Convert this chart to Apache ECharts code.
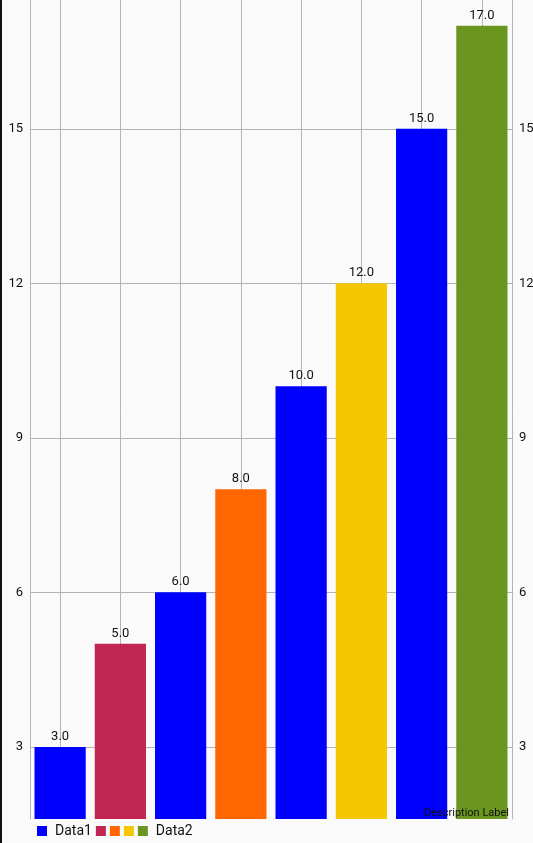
<!DOCTYPE html>
<html>
<head>
<meta charset="utf-8">
<script src="https://cdn.jsdelivr.net/npm/echarts@6/dist/echarts.min.js"></script>
<style>
  html, body { margin: 0; padding: 0; background: #fafafa; }
  #chart { width: 533px; height: 843px; }
  #edge { position: absolute; left: 0; top: 0; width: 2px; height: 843px; background: #111; }
</style>
</head>
<body>
<div id="chart"></div>
<div id="edge"></div>
<script>
// categories are just slots on the x axis
const categories = ['1', '2', '3', '4', '5', '6', '7', '8'];
// Data1 is the blue set, Data2 the multi colour set
const data1Values = [3, '-', 6, '-', 10, '-', 15, '-'];
const data2Values = ['-', 5, '-', 8, '-', 12, '-', 17];
const data2Colors = ['#C12552', '#FF6600', '#F5C700', '#6A961F'];
const blue = '#0000FF';
const yTicks = [3, 6, 9, 12, 15];

const chart = echarts.init(document.getElementById('chart'));

// colour each Data2 bar in turn
let k = 0;
const data2Items = data2Values.map(v => {
  if (v === '-') return v;
  const c = data2Colors[k++ % data2Colors.length];
  return { value: v, itemStyle: { color: c } };
});

const valueLabel = {
  show: true,
  position: 'top',
  distance: 4,
  color: '#111',
  fontSize: 13,
  fontFamily: 'Roboto',
  formatter: p => Number(p.value).toFixed(1)
};

function yAxis(pos, grid) {
  return {
    type: 'value',
    position: pos,
    min: 1.6,
    max: 17.5,
    splitNumber: 5,
    minInterval: yTicks[1] - yTicks[0],
    maxInterval: yTicks[1] - yTicks[0],
    axisLine: { show: true, lineStyle: { color: '#b4b4b4', width: 1 } },
    axisTick: { show: false },
    axisLabel: {
      color: '#111',
      fontSize: 13,
      fontFamily: 'Roboto',
      margin: 7,
      showMinLabel: false,
      showMaxLabel: false
    },
    splitLine: {
      show: grid,
      showMinLine: false,
      showMaxLine: false,
      lineStyle: { color: '#b4b4b4', width: 1 }
    }
  };
}

const option = {
  backgroundColor: '#fafafa',
  animation: false,
  title: {
    text: 'Description Label',
    right: 24,
    bottom: 24,
    padding: 0,
    textStyle: { fontSize: 11, fontWeight: 'normal', color: '#111', fontFamily: 'Roboto' }
  },
  legend: {
    left: 37,
    top: 824,
    padding: 0,
    icon: 'rect',
    itemWidth: 10,
    itemHeight: 10,
    itemGap: 4,
    data: ['Data1', '_1', '_2', '_3', 'Data2'],
    formatter: name => (name.indexOf('Data') === 0 ? name : ''),
    textStyle: { fontSize: 14, color: '#111', fontFamily: 'Roboto', padding: [0, 0, 0, 3] }
  },
  grid: { left: 30, right: 21, top: 0, bottom: 24, outerBoundsMode: 'none', containLabel: false },
  xAxis: {
    type: 'category',
    data: categories,
    axisLine: { show: false },
    axisTick: { show: false },
    axisLabel: { show: false },
    splitLine: {
      show: true,
      alignWithLabel: true,
      lineStyle: { color: '#b4b4b4', width: 1 }
    }
  },
  yAxis: [yAxis('left', true), yAxis('right', false)],
  series: [
    {
      name: 'Data1',
      type: 'bar',
      data: data1Values,
      barWidth: '85%',
      barGap: '-100%',
      itemStyle: { color: blue },
      label: valueLabel
    },
    {
      name: 'Data2',
      type: 'bar',
      data: data2Items,
      barWidth: '85%',
      barGap: '-100%',
      itemStyle: { color: data2Colors[3] },
      label: valueLabel
    },
    // empty series only to give the legend its extra colour squares
    { name: '_1', type: 'line', data: [], itemStyle: { color: data2Colors[0] } },
    { name: '_2', type: 'line', data: [], itemStyle: { color: data2Colors[1] } },
    { name: '_3', type: 'line', data: [], itemStyle: { color: data2Colors[2] } }
  ]
};

chart.setOption(option);
</script>
</body>
</html>
